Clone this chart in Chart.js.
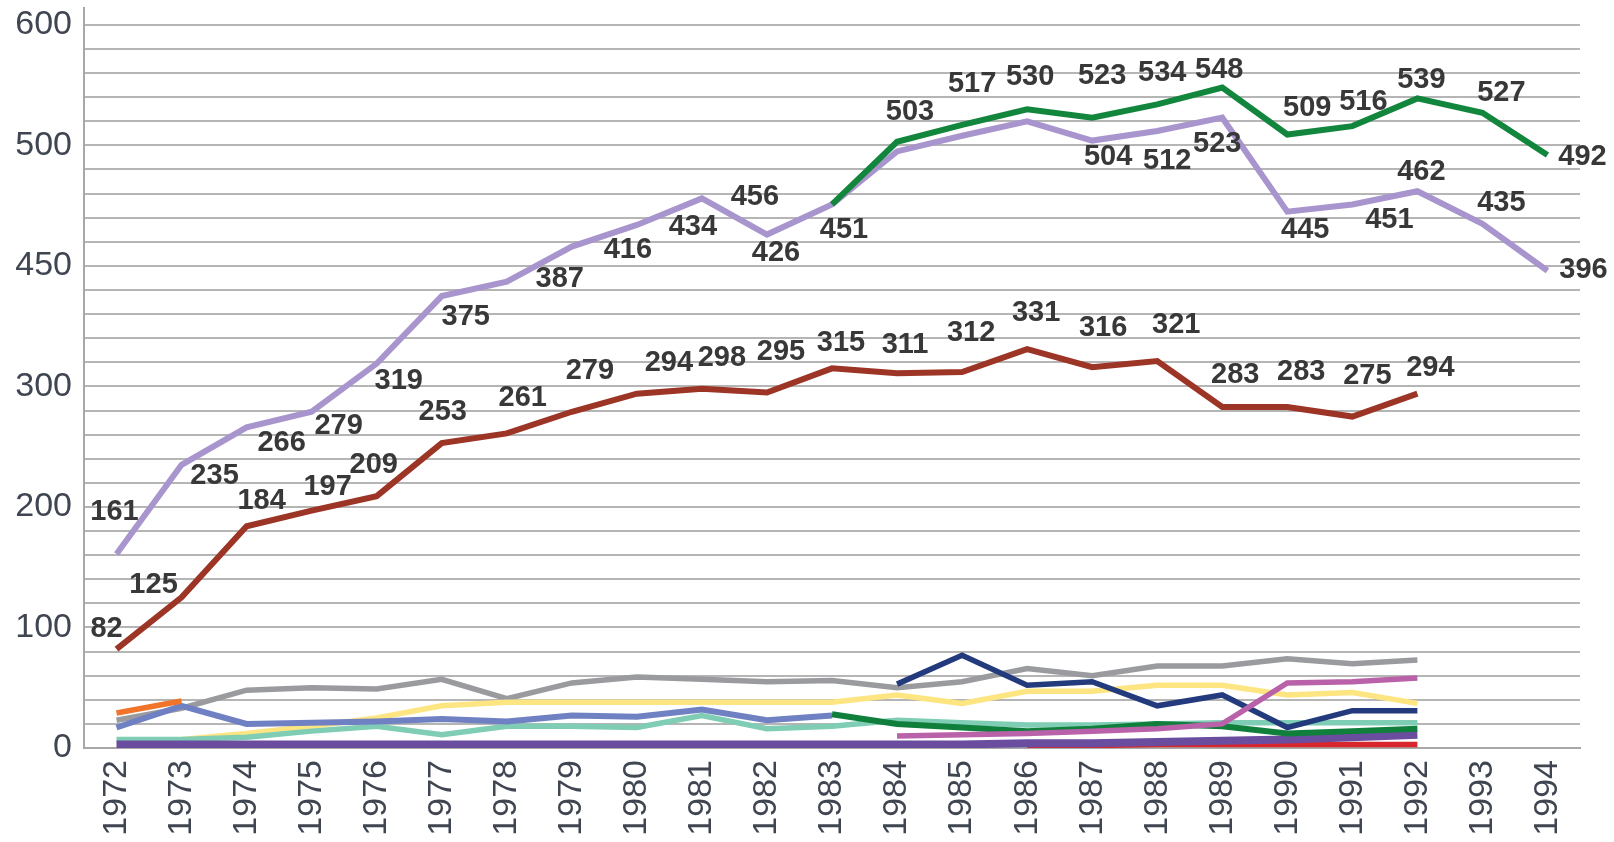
<!DOCTYPE html>
<html>
<head>
<meta charset="utf-8">
<script src="https://cdn.jsdelivr.net/npm/chart.js@4/dist/chart.umd.min.js"></script>
<style>
  html, body { margin: 0; padding: 0; background: #ffffff; }
  #wrap { width: 1614px; height: 842px; }
</style>
</head>
<body>
<div id="wrap"><canvas id="c" width="1614" height="842"></canvas></div>
<script>
// ---------------- DATA ----------------
const years = ['1972','1973','1974','1975','1976','1977','1978','1979','1980','1981','1982','1983',
               '1984','1985','1986','1987','1988','1989','1990','1991','1992','1993','1994'];

const yTickValues = [0, 100, 200, 300, 400, 500, 600];
const yTickLabels = ['0', '100', '200', '300', '450', '500', '600'];

const lavender = [161,235,266,279,319,375,387,416,434,456,426,451,495,508,520,504,512,523,445,451,462,435,396];
const greenTop = [null,null,null,null,null,null,null,null,null,null,null,451,503,517,530,523,534,548,509,516,539,527,492];
const brown    = [82,125,184,197,209,253,261,279,294,298,295,315,311,312,331,316,321,283,283,275,294,null,null];

const gray       = [23,33,48,50,49,57,41,54,59,57,55,56,50,55,66,60,68,68,74,70,73,null,null];
const periwinkle = [17,35,20,21,22,24,22,27,26,32,23,27,null,null,null,null,null,null,null,null,null,null,null];
const orange     = [29,39,null,null,null,null,null,null,null,null,null,null,null,null,null,null,null,null,null,null,null,null,null];
const yellow     = [null,7,12,18,25,35,38,38,38,38,38,38,44,37,47,47,52,52,44,46,37,null,null];
const teal       = [7,7,9,14,18,11,18,18,17,27,16,18,23,21,19,19,20,21,21,21,21,null,null];
const purple     = [3,3,3,3,3,3,3,3,3,3,3,3,3,3,4,4,5,6,7,9,11,null,null];
const navy       = [null,null,null,null,null,null,null,null,null,null,null,null,53,77,52,55,35,44,17,31,31,null,null];
const greenSmall = [null,null,null,null,null,null,null,null,null,null,null,28,20,17,14,16,20,18,12,14,16,null,null];
const magenta    = [null,null,null,null,null,null,null,null,null,null,null,null,10,11,12,14,16,20,54,55,58,null,null];
const red        = [null,null,null,null,null,null,null,null,null,null,null,null,null,null,1,2,3,3,3,3,3,null,null];

// ---------------- LABEL PLACEMENT (layout only) ----------------
const lavenderLabelOffsets = [[-2,-43],[33,10],[35,15],[27,13],[22,16],[24,20],[53,-4],[56,2],[56,1],[53,-2],[9,17],[12,25],
  null,null,null,[16,15],[10,29],[-5,25],[18,17],[37,15],[4,-20],[19,-22],[36,-2]];
const greenLabelOffsets = [null,null,null,null,null,null,null,null,null,null,null,null,
  [13,-31],[10,-42],[3,-33],[10,-43],[5,-32],[-3,-19],[20,-28],[11,-25],[4,-19],[19,-21],[35,1]];
const brownLabelOffsets = [[-10,-21],[-28,-13],[15,-26],[16,-25],[-3,-32],[1,-32],[16,-36],[18,-42],[32,-32],[20,-32],[14,-41],
  [9,-26],[8,-29],[9,-40],[9,-37],[11,-40],[19,-37],[13,-33],[14,-36],[15,-42],[13,-27],null,null];

// ---------------- CHART ----------------
const FONT = '"Liberation Sans", Arial, Helvetica, sans-serif';
const GRID_STEP = 20;

const valueLabels = {
  id: 'valueLabels',
  afterDatasetsDraw(chart) {
    const ctx = chart.ctx;
    ctx.save();
    ctx.font = 'bold 29px ' + FONT;
    ctx.fillStyle = '#383838';
    ctx.textAlign = 'center';
    ctx.textBaseline = 'middle';
    chart.data.datasets.forEach((ds, di) => {
      if (!ds.labelOffsets) return;
      const meta = chart.getDatasetMeta(di);
      ds.data.forEach((v, i) => {
        const off = ds.labelOffsets[i];
        if (v == null || !off) return;
        const pt = meta.data[i];
        ctx.fillText(String(v), pt.x + off[0], pt.y + off[1] + 1);
      });
    });
    ctx.restore();
  }
};

function line(data, color, width, extra) {
  return Object.assign({
    data: data,
    borderColor: color,
    backgroundColor: color,
    borderWidth: width,
    pointRadius: 0,
    pointHoverRadius: 0,
    tension: 0,
    fill: false,
    spanGaps: false,
    borderJoinStyle: 'miter',
    borderCapStyle: 'butt'
  }, extra || {});
}

new Chart(document.getElementById('c'), {
  type: 'line',
  data: {
    labels: years,
    datasets: [
      line(greenTop, '#13863d', 6, { labelOffsets: greenLabelOffsets }),
      line(lavender, '#a995cd', 6, { labelOffsets: lavenderLabelOffsets }),
      line(brown, '#9d3526', 6, { labelOffsets: brownLabelOffsets }),
      line(magenta, '#b962a9', 5.5),
      line(navy, '#233b7c', 5.5),
      line(greenSmall, '#0f7f3b', 6),
      line(orange, '#f0742a', 5.5),
      line(periwinkle, '#6f81c3', 6),
      line(purple, '#6a4d9e', 8),
      line(red, '#d8262d', 5.5),
      line(teal, '#7fcdb4', 5.5),
      line(yellow, '#fde581', 5.5),
      line(gray, '#9a9b9f', 5.5)
    ]
  },
  options: {
    responsive: false,
    animation: false,
    devicePixelRatio: 1,
    layout: { padding: { top: 8, right: 34, bottom: 0, left: 0 } },
    plugins: {
      legend: { display: false },
      tooltip: { enabled: false },
      title: { display: false }
    },
    scales: {
      x: {
        type: 'category',
        offset: true,
        grid: { display: false, drawTicks: false },
        border: { display: true, color: '#a8a8a8', width: 2 },
        ticks: {
          autoSkip: false,
          minRotation: 90,
          maxRotation: 90,
          padding: 12,
          color: '#3f4551',
          font: { family: FONT, size: 34 }
        },
        afterFit(scale) { scale.height = 94; }
      },
      y: {
        min: 0,
        max: 614,
        grid: { color: '#b5b5b5', lineWidth: 2, drawTicks: false },
        border: { display: true, color: '#a8a8a8', width: 2 },
        ticks: {
          autoSkip: false,
          padding: 12,
          color: '#3f4551',
          font: { family: FONT, size: 34 },
          callback(value) {
            const k = yTickValues.indexOf(value);
            return k >= 0 ? yTickLabels[k] : '';
          }
        },
        afterBuildTicks(scale) {
          const top = yTickValues[yTickValues.length - 1];
          const t = [];
          for (let v = 0; v <= top; v += GRID_STEP) t.push({ value: v });
          scale.ticks = t;
        },
        afterFit(scale) {
          scale.width = 84;
          scale.paddingTop = 0;
          scale.paddingBottom = 0;
        }
      }
    }
  },
  plugins: [valueLabels]
});
</script>
</body>
</html>
